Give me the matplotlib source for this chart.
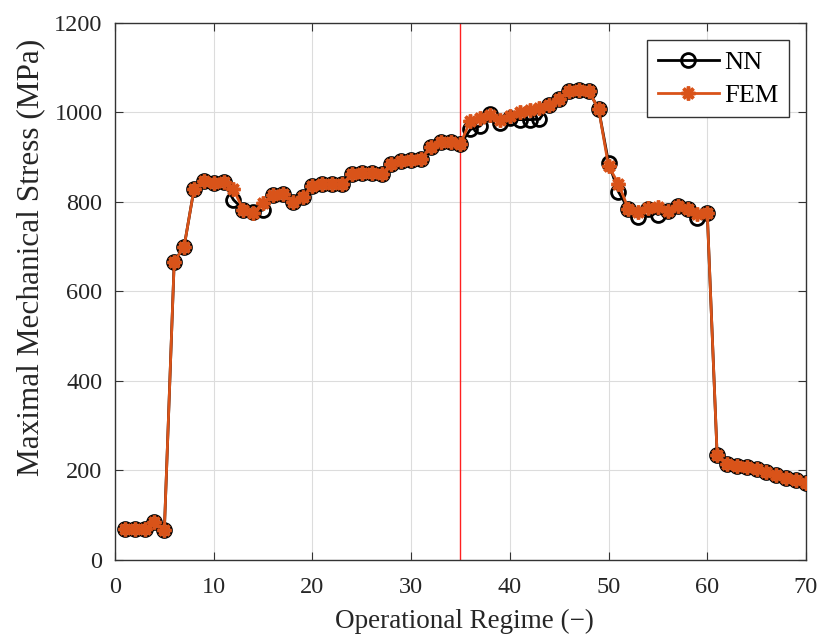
import matplotlib
matplotlib.use("Agg")
import matplotlib.pyplot as plt
import numpy as np

regime = list(range(1, 71))
nn = [70, 70, 70, 85, 66, 667, 700, 828, 847, 842,
      845, 805, 783, 778, 782, 815, 818, 800, 811, 836,
      840, 840, 840, 862, 864, 865, 862, 884, 891, 893,
      897, 923, 933, 933, 930, 962, 970, 996, 976, 987,
      984, 984, 985, 1017, 1031, 1049, 1050, 1048, 1007, 888,
      823, 785, 766, 784, 772, 779, 790, 784, 764, 775,
      234, 215, 211, 207, 203, 196, 190, 183, 179, 173]
fem = [70, 70, 70, 85, 66, 667, 700, 828, 847, 842,
       845, 828, 783, 776, 797, 815, 818, 800, 811, 836,
       840, 840, 840, 862, 864, 865, 862, 884, 891, 893,
       897, 923, 933, 933, 930, 982, 988, 994, 984, 993,
       1001, 1005, 1010, 1016, 1031, 1049, 1050, 1048, 1007, 880,
       841, 785, 778, 786, 789, 780, 790, 784, 774, 775,
       234, 215, 211, 207, 203, 196, 190, 183, 179, 173]
split_x = 35
xticks = [0, 10, 20, 30, 40, 50, 60, 70]
yticks = [0, 200, 400, 600, 800, 1000, 1200]

plt.rcParams['font.family'] = ['Liberation Serif', 'DejaVu Serif']
fig = plt.figure(figsize=(8.19, 6.37), dpi=100)
ax = fig.add_axes([0.1404, 0.1209, 0.8437, 0.8430])

orange = '#D95319'
txt = '#262626'
ax.plot(regime, nn, color='black', lw=2, marker='o', ms=10, mfc='none',
        mec='black', mew=2, label='NN', zorder=3)
ax.plot(regime, fem, color=orange, lw=2, marker=(8, 2, 0), ms=10,
        mec=orange, mew=2.5, label='FEM', zorder=4)
ax.axvline(split_x, color='#FF2020', lw=1, zorder=2)

ax.set_xlim(0, 70)
ax.set_ylim(0, 1200)
ax.set_xticks(xticks)
ax.set_yticks(yticks)
ax.grid(True, color='#DCDCDC', lw=0.8)
ax.set_axisbelow(True)
ax.tick_params(axis='both', direction='in', top=True, right=True, length=6,
               labelsize=17.5, color='#333333', labelcolor=txt)
ax.tick_params(axis='x', pad=12)
ax.tick_params(axis='y', pad=9)
for s in ax.spines.values():
    s.set_color('#333333')
    s.set_linewidth(1)

ax.set_xlabel('Operational Regime (\u2212)', fontsize=19.5, color=txt, va='center')
ax.xaxis.set_label_coords(0.505, -0.114)
ax.set_ylabel('Maximal Mechanical Stress (MPa)', fontsize=22.5, color=txt, va='center')
ax.yaxis.set_label_coords(-0.1216, 0.564)

leg = ax.legend(loc='upper right', fontsize=19, frameon=True, fancybox=False,
                edgecolor='#333333', framealpha=1, handlelength=2.3,
                handletextpad=0.2, borderpad=0.4, labelspacing=0.35,
                borderaxespad=0.65, markerscale=1.0)
leg.get_frame().set_linewidth(1)

fig.savefig('out.png', dpi=100)
